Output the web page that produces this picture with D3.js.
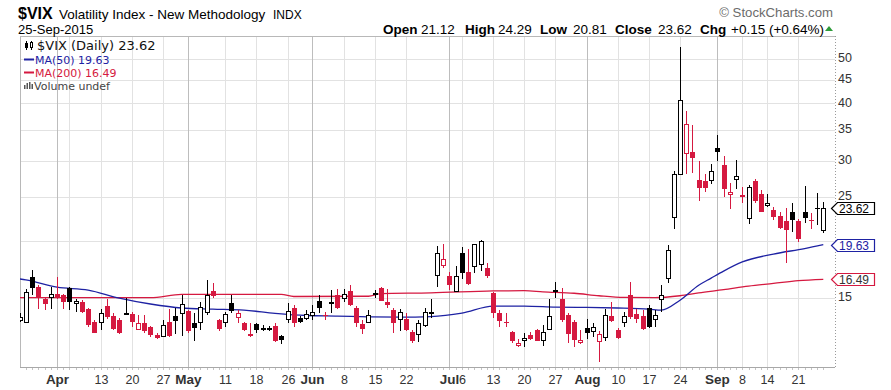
<!DOCTYPE html>
<html>
<head>
<meta charset="utf-8">
<script src="https://cdn.jsdelivr.net/npm/d3@7/dist/d3.min.js"></script>
<style>
	body { margin: 0; background: #fff; }
	svg { display: block; font-family: Arial, "Liberation Sans", sans-serif; }
</style>
</head>
<body>
<svg id="chart" width="891" height="390"></svg>
<script>
// Trading days shown (Mar 24 sits mostly behind the left border)
let dates = [
	"2015-03-24", "2015-03-25", "2015-03-26", "2015-03-27", "2015-03-30", "2015-03-31",
	"2015-04-01", "2015-04-02", "2015-04-06", "2015-04-07", "2015-04-08", "2015-04-09", "2015-04-10",
	"2015-04-13", "2015-04-14", "2015-04-15", "2015-04-16", "2015-04-17",
	"2015-04-20", "2015-04-21", "2015-04-22", "2015-04-23", "2015-04-24",
	"2015-04-27", "2015-04-28", "2015-04-29", "2015-04-30",
	"2015-05-01", "2015-05-04", "2015-05-05", "2015-05-06", "2015-05-07", "2015-05-08",
	"2015-05-11", "2015-05-12", "2015-05-13", "2015-05-14", "2015-05-15",
	"2015-05-18", "2015-05-19", "2015-05-20", "2015-05-21", "2015-05-22",
	"2015-05-26", "2015-05-27", "2015-05-28", "2015-05-29",
	"2015-06-01", "2015-06-02", "2015-06-03", "2015-06-04", "2015-06-05",
	"2015-06-08", "2015-06-09", "2015-06-10", "2015-06-11", "2015-06-12",
	"2015-06-15", "2015-06-16", "2015-06-17", "2015-06-18", "2015-06-19",
	"2015-06-22", "2015-06-23", "2015-06-24", "2015-06-25", "2015-06-26",
	"2015-06-29", "2015-06-30", "2015-07-01", "2015-07-02",
	"2015-07-06", "2015-07-07", "2015-07-08", "2015-07-09", "2015-07-10",
	"2015-07-13", "2015-07-14", "2015-07-15", "2015-07-16", "2015-07-17",
	"2015-07-20", "2015-07-21", "2015-07-22", "2015-07-23", "2015-07-24",
	"2015-07-27", "2015-07-28", "2015-07-29", "2015-07-30", "2015-07-31",
	"2015-08-03", "2015-08-04", "2015-08-05", "2015-08-06", "2015-08-07",
	"2015-08-10", "2015-08-11", "2015-08-12", "2015-08-13", "2015-08-14",
	"2015-08-17", "2015-08-18", "2015-08-19", "2015-08-20", "2015-08-21",
	"2015-08-24", "2015-08-25", "2015-08-26", "2015-08-27", "2015-08-28",
	"2015-08-31", "2015-09-01", "2015-09-02", "2015-09-03", "2015-09-04",
	"2015-09-08", "2015-09-09", "2015-09-10", "2015-09-11",
	"2015-09-14", "2015-09-15", "2015-09-16", "2015-09-17", "2015-09-18",
	"2015-09-21", "2015-09-22", "2015-09-23", "2015-09-24", "2015-09-25"
];

let open = [
	13.4, 13.3, 16.7, 15.9, 14.9, 15.05,
	15.35, 15.2, 15.8, 14.6, 14.7, 14.2, 13.3,
	13.3, 14.45, 13.7, 13.45, 13.85,
	13.85, 12.85, 13.2, 13.0, 12.45,
	12.4, 13.3, 13.7, 13.9,
	14.05, 13.2, 13.3, 14.0, 15.55, 13.45,
	13.3, 14.65, 13.65, 13.2, 12.5,
	13.15, 12.85, 12.85, 13.05, 12.4,
	13.5, 14.3, 13.6, 13.55,
	13.75, 14.75, 13.75, 14.65, 15.2,
	14.95, 15.55, 14.25, 13.15, 13.3,
	15.35, 15.8, 14.7, 14.1, 13.45,
	13.5, 12.65, 12.55, 13.15, 14.0,
	16.9, 17.7, 16.8, 15.55,
	18.8, 17.1, 17.6, 17.75, 17.5,
	15.4, 13.95, 13.3, 12.65, 11.85,
	12.15, 12.45, 12.8, 12.15, 12.9,
	15.55, 14.95, 13.75, 13.3, 12.0,
	12.9, 12.75, 12.05, 12.3, 13.7,
	12.75, 13.3, 15.2, 13.85, 13.7,
	14.3, 13.5, 14.95, 16.6, 22.6,
	28.03, 31.2, 31.3, 27.2, 27.0,
	27.2, 32.0, 29.4, 25.3, 27.4,
	25.2, 22.4, 27.0, 25.4,
	24.0, 23.4, 22.7, 22.1, 23.2,
	22.1, 23.1, 22.2, 23.6, 21.12
];

let high = [
	13.9, 15.7, 17.3, 16.0, 15.1, 15.9,
	16.7, 15.3, 15.9, 14.9, 14.85, 14.3, 13.4,
	14.2, 14.9, 13.9, 13.6, 15.0,
	14.0, 13.8, 13.8, 13.05, 12.6,
	13.4, 14.2, 14.3, 15.2,
	14.1, 13.9, 14.7, 16.4, 16.2, 13.5,
	14.0, 15.2, 14.1, 13.3, 13.2,
	13.25, 13.1, 13.05, 13.2, 12.45,
	14.6, 14.5, 13.7, 14.1,
	14.5, 15.2, 14.0, 15.6, 15.7,
	15.7, 16.0, 14.4, 13.4, 14.1,
	15.6, 15.9, 15.7, 14.3, 14.2,
	13.9, 12.8, 13.4, 14.3, 14.9,
	19.5, 19.7, 17.1, 17.6,
	19.4, 19.2, 19.7, 20.1, 17.9,
	15.45, 14.1, 13.9, 12.7, 12.2,
	12.6, 12.65, 12.85, 13.1, 14.9,
	16.3, 15.8, 13.9, 13.4, 12.8,
	13.5, 13.2, 12.7, 14.2, 14.7,
	12.9, 14.0, 16.3, 14.2, 14.1,
	14.5, 14.1, 16.0, 19.6, 28.4,
	53.29, 38.6, 35.9, 30.0, 28.1,
	29.5, 34.1, 30.7, 26.8, 30.1,
	26.3, 26.5, 27.4, 25.8,
	25.4, 23.8, 23.2, 23.6, 24.2,
	22.3, 26.4, 23.0, 25.5, 24.29
];

let low = [
	13.3, 13.2, 15.2, 14.2, 14.1, 14.2,
	14.9, 14.2, 14.1, 14.0, 13.9, 13.0, 12.55,
	12.8, 13.5, 12.75, 12.5, 13.75,
	13.0, 12.8, 12.6, 12.3, 12.2,
	12.3, 12.35, 12.5, 12.4,
	12.6, 12.1, 12.8, 13.8, 15.0, 12.7,
	13.0, 13.9, 13.2, 12.7, 12.3,
	12.6, 12.7, 12.7, 12.05, 11.9,
	13.2, 13.0, 13.2, 13.4,
	13.4, 13.9, 13.45, 13.9, 14.2,
	14.7, 14.4, 13.0, 12.5, 13.2,
	15.0, 14.75, 14.3, 12.6, 12.7,
	12.7, 11.95, 12.0, 13.0, 13.6,
	15.9, 17.5, 15.6, 15.5,
	16.5, 16.0, 17.0, 17.2, 16.6,
	13.6, 13.0, 13.0, 11.95, 11.7,
	11.75, 12.15, 12.1, 11.8, 12.75,
	15.0, 13.3, 11.95, 11.75, 11.9,
	12.2, 12.3, 10.88, 12.1, 13.3,
	12.2, 13.0, 13.5, 13.2, 12.8,
	12.9, 13.0, 14.0, 16.2, 21.2,
	28.03, 28.1, 28.2, 24.5, 25.6,
	26.6, 30.0, 25.0, 23.5, 26.0,
	24.2, 21.8, 24.2, 23.1,
	23.7, 22.2, 21.3, 17.9, 20.9,
	19.9, 21.9, 21.2, 21.7, 20.81
];

let close = [
	13.62, 15.5, 15.8, 15.07, 14.51, 15.29,
	15.11, 14.67, 14.74, 14.78, 13.98, 13.09, 12.58,
	13.94, 13.67, 12.84, 12.60, 13.89,
	13.30, 13.25, 12.71, 12.48, 12.29,
	13.12, 12.41, 13.39, 14.55,
	12.70, 12.85, 14.31, 15.25, 15.15, 12.86,
	13.85, 14.1, 13.9, 12.74, 12.38,
	12.73, 12.87, 12.88, 12.11, 12.13,
	14.06, 13.27, 13.31, 13.84,
	13.97, 14.24, 13.66, 14.71, 14.21,
	15.29, 14.47, 13.22, 12.85, 13.78,
	15.39, 14.81, 14.50, 13.19, 13.96,
	12.74, 12.11, 13.26, 14.01, 14.02,
	18.85, 18.23, 16.09, 16.79,
	17.01, 16.09, 19.66, 19.97, 16.83,
	13.90, 13.37, 13.23, 12.11, 11.95,
	12.25, 12.22, 12.12, 12.64, 13.74,
	15.60, 13.44, 12.50, 12.13, 12.12,
	12.56, 13.00, 12.51, 13.77, 13.39,
	12.23, 13.71, 13.61, 13.49, 12.83,
	13.02, 13.79, 15.25, 19.14, 28.03,
	40.74, 36.02, 30.32, 26.10, 26.05,
	28.43, 31.40, 26.09, 25.61, 27.80,
	24.90, 26.23, 24.37, 23.20,
	24.25, 22.54, 21.35, 21.14, 22.28,
	20.14, 22.44, 22.13, 23.47, 23.62
];

// Moving averages at a few dates
let ma50Dates = [
	"2015-03-24", "2015-03-25", "2015-04-01", "2015-04-09", "2015-04-16", "2015-04-23", "2015-04-30",
	"2015-05-07", "2015-05-14", "2015-05-21", "2015-05-29", "2015-06-05", "2015-06-12", "2015-06-19",
	"2015-06-26", "2015-07-06", "2015-07-13", "2015-07-20", "2015-07-27", "2015-08-03", "2015-08-10",
	"2015-08-17", "2015-08-19", "2015-08-24", "2015-08-27", "2015-08-31", "2015-09-02", "2015-09-08",
	"2015-09-15", "2015-09-22", "2015-09-25"
];
let ma50Values = [
	16.52, 16.45, 15.85, 15.62, 15.0, 14.56, 14.27,
	14.19, 14.12, 13.89, 13.74, 13.70, 13.65, 13.63,
	13.67, 13.91, 14.41, 14.41, 14.34, 14.31, 14.27,
	14.19, 14.12, 14.84, 16.0, 16.59, 17.19, 18.0,
	18.73, 19.25, 19.63
];

let ma200Dates = [
	"2015-03-24", "2015-04-23", "2015-04-30", "2015-05-22", "2015-05-27", "2015-06-12", "2015-06-16",
	"2015-06-26", "2015-07-13", "2015-07-20", "2015-07-23", "2015-07-30", "2015-08-05", "2015-08-11",
	"2015-08-18", "2015-08-24", "2015-08-27", "2015-09-02", "2015-09-09", "2015-09-15", "2015-09-21",
	"2015-09-25"
];
let ma200Values = [
	15.03, 15.03, 15.28, 15.28, 15.12, 15.14, 15.35,
	15.40, 15.55, 15.57, 15.48, 15.37, 15.18, 15.05,
	15.03, 15.18, 15.40, 15.65, 15.93, 16.15, 16.38,
	16.49
];

let yTicks = [15, 20, 25, 30, 35, 40, 45, 50];

let gridDates = [
	"2015-04-01", "2015-04-06", "2015-04-13", "2015-04-20", "2015-04-27", "2015-05-01", "2015-05-11",
	"2015-05-18", "2015-05-26", "2015-06-01", "2015-06-08", "2015-06-15", "2015-06-22", "2015-07-01",
	"2015-07-06", "2015-07-13", "2015-07-20", "2015-07-27", "2015-08-03", "2015-08-10", "2015-08-17",
	"2015-08-24", "2015-09-01", "2015-09-08", "2015-09-14", "2015-09-21"
];
let gridLabels = [
	"Apr", "", "13", "20", "27", "May", "11",
	"18", "26", "Jun", "8", "15", "22", "Jul",
	"6", "13", "20", "27", "Aug", "10", "17",
	"24", "Sep", "8", "14", "21"
];
let monthNames = ["Apr", "May", "Jun", "Jul", "Aug", "Sep"];

// Colours
let red = "#d51940";
let blue = "#1e22a3";

// Plot frame
let plot = { left: 20, right: 835, top: 36, bottom: 367 };

let svg = d3.select("#chart");

// Scales
let x = d3.scaleBand()
	.domain(dates)
	.range([16.5, 826.4]);
let xc = d => Math.round(x(d) + x.bandwidth() / 2);

let y = d3.scaleLog()
	.domain([10.6, 56.2])
	.range([plot.bottom, plot.top]);

svg.append("defs").append("clipPath")
	.attr("id", "plot-clip")
	.append("rect")
	.attr("x", plot.left)
	.attr("y", plot.top)
	.attr("width", plot.right - plot.left)
	.attr("height", plot.bottom - plot.top);

// Horizontal gridlines
svg.append("g")
	.selectAll("line")
	.data(yTicks)
	.enter().append("line")
	.attr("x1", plot.left)
	.attr("x2", plot.right)
	.attr("y1", d => Math.round(y(d)) + 0.5)
	.attr("y2", d => Math.round(y(d)) + 0.5)
	.style("stroke", "#e2e2e2");

// Vertical gridlines, month lines darker
let grid = gridDates.map((d, i) => ({ date: d, label: gridLabels[i], month: monthNames.includes(gridLabels[i]) }));
svg.append("g")
	.selectAll("line")
	.data(grid)
	.enter().append("line")
	.attr("x1", d => xc(d.date) + 0.5)
	.attr("x2", d => xc(d.date) + 0.5)
	.attr("y1", plot.top)
	.attr("y2", plot.bottom)
	.style("stroke", d => d.month ? "#bdbdbd" : "#e2e2e2");

// Frame: top and left border, bottom axis, dotted right axis
svg.append("line")
	.attr("x1", plot.left).attr("x2", plot.right)
	.attr("y1", plot.top + 0.5).attr("y2", plot.top + 0.5)
	.style("stroke", "#b8b8b8");
svg.append("line")
	.attr("x1", plot.left + 0.5).attr("x2", plot.left + 0.5)
	.attr("y1", plot.top).attr("y2", plot.bottom)
	.style("stroke", "#b8b8b8");
svg.append("line")
	.attr("x1", plot.left).attr("x2", plot.right)
	.attr("y1", plot.bottom + 0.5).attr("y2", plot.bottom + 0.5)
	.style("stroke", "#a8a8a8");
svg.append("line")
	.attr("x1", plot.right + 0.5).attr("x2", plot.right + 0.5)
	.attr("y1", plot.top).attr("y2", plot.bottom)
	.style("stroke", "#9a9a9a")
	.style("stroke-dasharray", "1,2");

// Small day ticks under the bottom axis
svg.append("g")
	.selectAll("line")
	.data(dates.slice(1))
	.enter().append("line")
	.attr("x1", d => xc(d) + 0.5)
	.attr("x2", d => xc(d) + 0.5)
	.attr("y1", plot.bottom + 1)
	.attr("y2", plot.bottom + 3)
	.style("stroke", "#c4c4c4");

// Date labels
svg.append("g")
	.selectAll("text")
	.data(grid.filter(d => d.label !== ""))
	.enter().append("text")
	.attr("x", d => xc(d.date) + 0.5)
	.attr("y", 384)
	.style("text-anchor", "middle")
	.style("font-size", d => d.month ? "13.5px" : "12.5px")
	.style("font-weight", d => d.month ? "bold" : "normal")
	.style("fill", "#333")
	.text(d => d.label);

// Value flags on the right axis (drawn later, positions needed for tick labels)
let fmt = d3.format(".2f");
let flags = [
	{ v: close[close.length - 1], stroke: "#000", text: "#000" },
	{ v: ma50Values[ma50Values.length - 1], stroke: blue, text: blue },
	{ v: ma200Values[ma200Values.length - 1], stroke: red, text: "#333" }
];

// Y tick labels on the right, skipping the one hidden behind a flag
svg.append("g")
	.selectAll("text")
	.data(yTicks.filter(t => flags.every(f => Math.abs(y(t) - y(f.v)) > 9)))
	.enter().append("text")
	.attr("x", 838)
	.attr("y", d => y(d))
	.attr("dy", "0.26em")
	.style("font-size", "12.5px")
	.style("fill", "#333")
	.text(d => d);

// Moving averages
let chartArea = svg.append("g").attr("clip-path", "url(#plot-clip)");

let maLine = d3.line()
	.x(d => x(d.date) + x.bandwidth() / 2)
	.y(d => y(d.v))
	.curve(d3.curveMonotoneX);

chartArea.append("path")
	.datum(ma200Dates.map((d, i) => ({ date: d, v: ma200Values[i] })))
	.attr("d", maLine)
	.style("fill", "none")
	.style("stroke", red)
	.style("stroke-width", 1.3);

chartArea.append("path")
	.datum(ma50Dates.map((d, i) => ({ date: d, v: ma50Values[i] })))
	.attr("d", maLine)
	.style("fill", "none")
	.style("stroke", blue)
	.style("stroke-width", 1.3);

// Candles: hollow when close > open, red when close < previous close
let candles = dates.map((d, i) => ({
	date: d, o: open[i], h: high[i], l: low[i], c: close[i],
	up: i === 0 ? true : close[i] >= close[i - 1]
}));

let candleG = chartArea.append("g")
	.selectAll("g")
	.data(candles)
	.enter().append("g")
	.style("shape-rendering", "crispEdges");

candleG.append("line")
	.attr("x1", d => xc(d.date) + 0.5)
	.attr("x2", d => xc(d.date) + 0.5)
	.attr("y1", d => y(d.h))
	.attr("y2", d => y(d.l))
	.style("stroke", d => d.up ? "#000" : red);

candleG.append("rect")
	.attr("x", d => d.c > d.o ? xc(d.date) - 1.5 : xc(d.date) - 2)
	.attr("width", d => d.c > d.o ? 4 : 5)
	.attr("y", d => Math.round(y(Math.max(d.o, d.c))) + (d.c > d.o ? 0.5 : 0))
	.attr("height", d => Math.max(1, Math.round(y(Math.min(d.o, d.c)) - y(Math.max(d.o, d.c)))))
	.style("fill", d => d.c > d.o ? "#fff" : (d.up ? "#000" : red))
	.style("stroke", d => d.c > d.o ? (d.up ? "#000" : red) : "none");

// Flags
let flagG = svg.append("g")
	.selectAll("g")
	.data(flags)
	.enter().append("g")
	.attr("transform", d => "translate(0," + Math.round(y(d.v)) + ")");

flagG.append("path")
	.attr("d", "M831.5,0.5 L837.5,-5.5 L874.5,-5.5 L874.5,6.5 L837.5,6.5 Z")
	.style("fill", "#fff")
	.style("stroke", d => d.stroke)
	.style("stroke-width", 1.2);

flagG.append("text")
	.attr("x", 839)
	.attr("y", 5)
	.style("font-size", "12px")
	.style("fill", d => d.text)
	.text(d => fmt(d.v));

// Legend inside the plot
let legend = svg.append("g").style("font-family", "'DejaVu Sans', Verdana, sans-serif");

legend.append("line").attr("x1", 26.5).attr("x2", 26.5).attr("y1", 41).attr("y2", 50).style("stroke", "#000");
legend.append("rect").attr("x", 25).attr("y", 43).attr("width", 3).attr("height", 5).style("fill", "#000");
legend.append("line").attr("x1", 31.5).attr("x2", 31.5).attr("y1", 41).attr("y2", 50).style("stroke", "#000");
legend.append("rect").attr("x", 30.5).attr("y", 42.5).attr("width", 2).attr("height", 5).style("fill", "#fff").style("stroke", "#000");

legend.append("text").attr("x", 37).attr("y", 50).style("font-size", "13px").style("fill", "#111")
	.text("$VIX (Daily) " + fmt(close[close.length - 1]));

legend.append("line").attr("x1", 24).attr("x2", 34).attr("y1", 59.5).attr("y2", 59.5)
	.style("stroke", blue).style("stroke-width", 2);
legend.append("text").attr("x", 35).attr("y", 63.5).style("font-size", "11px").style("fill", blue)
	.text("MA(50) " + fmt(ma50Values[ma50Values.length - 1]));

legend.append("line").attr("x1", 24).attr("x2", 34).attr("y1", 72.5).attr("y2", 72.5)
	.style("stroke", red).style("stroke-width", 2);
legend.append("text").attr("x", 35).attr("y", 76.5).style("font-size", "11px").style("fill", red)
	.text("MA(200) " + fmt(ma200Values[ma200Values.length - 1]));

[0, 1, 2, 3].forEach(k => {
	legend.append("rect")
		.attr("x", 24 + k * 2.5).attr("y", 89 - [4, 6, 7, 5][k])
		.attr("width", 1.5).attr("height", [4, 6, 7, 5][k])
		.style("fill", "#555");
});
legend.append("text").attr("x", 34).attr("y", 89.5).style("font-size", "11px").style("fill", "#444")
	.text("Volume undef");

// Header
svg.append("text").attr("x", 18).attr("y", 18.5)
	.style("font-size", "16px").style("font-weight", "bold").text("$VIX");
svg.append("text").attr("x", 59).attr("y", 18.5)
	.style("font-size", "13.5px").text("Volatility Index - New Methodology");
svg.append("text").attr("x", 273).attr("y", 18.5)
	.style("font-size", "12px").text("INDX");
svg.append("text").attr("x", 18).attr("y", 33.5)
	.style("font-size", "13px").text("25-Sep-2015");

svg.append("text").attr("x", 833).attr("y", 17)
	.style("text-anchor", "end").style("font-size", "13.2px").style("fill", "#6b6b6b")
	.text("\u00a9 StockCharts.com");

let quote = [
	{ x: 383, t: "Open", b: true }, { x: 421, t: "21.12" },
	{ x: 465, t: "High", b: true }, { x: 498, t: "24.29" },
	{ x: 540, t: "Low", b: true }, { x: 573, t: "20.81" },
	{ x: 615, t: "Close", b: true }, { x: 658, t: "23.62" },
	{ x: 700, t: "Chg", b: true }, { x: 731, t: "+0.15 (+0.64%)" }
];
svg.append("g")
	.selectAll("text")
	.data(quote)
	.enter().append("text")
	.attr("x", d => d.x)
	.attr("y", 33.5)
	.style("font-size", "13.5px")
	.style("font-weight", d => d.b ? "bold" : "normal")
	.text(d => d.t);

svg.append("path")
	.attr("d", "M825,31 L829,26 L833,31 Z")
	.style("fill", "#2e9b3a");
</script>
</body>
</html>
